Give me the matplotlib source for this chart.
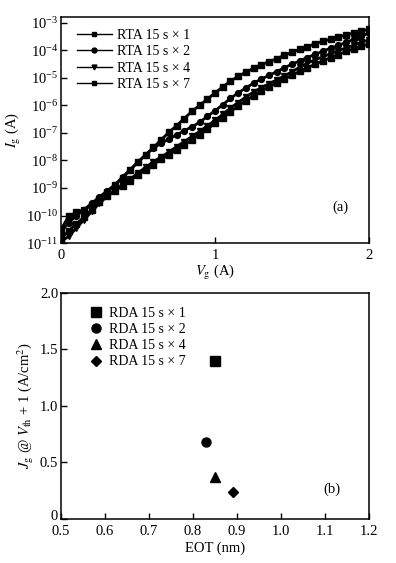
import numpy as np
import matplotlib
matplotlib.use("Agg")
import matplotlib.pyplot as plt
from matplotlib.ticker import LogLocator, LogFormatterSciNotation, FixedLocator
from matplotlib.transforms import ScaledTranslation

plt.rcParams['font.family'] = ['Liberation Serif', 'DejaVu Serif']
plt.rcParams['mathtext.fontset'] = 'stix'
plt.rcParams['font.size'] = 10

# ---- Panel (a) data: gate voltage (V) and log10 of gate current (A)
vg = [0.00, 0.05, 0.10, 0.15, 0.20, 0.25, 0.30, 0.35, 0.40, 0.45,
      0.50, 0.55, 0.60, 0.65, 0.70, 0.75, 0.80, 0.85, 0.90, 0.95,
      1.00, 1.05, 1.10, 1.15, 1.20, 1.25, 1.30, 1.35, 1.40, 1.45,
      1.50, 1.55, 1.60, 1.65, 1.70, 1.75, 1.80, 1.85, 1.90, 1.95, 2.00]

log_ig_x1 = [-10.50, -10.02, -9.88, -9.78, -9.62, -9.40, -9.15, -8.90, -8.62, -8.35,
             -8.05, -7.80, -7.53, -7.25, -6.98, -6.74, -6.48, -6.22, -6.00, -5.78,
             -5.55, -5.33, -5.13, -4.95, -4.80, -4.66, -4.53, -4.42, -4.31, -4.19,
             -4.08, -3.97, -3.87, -3.77, -3.68, -3.60, -3.52, -3.45, -3.38, -3.31, -3.25]

log_ig_x2 = [-10.60, -10.25, -10.00, -9.78, -9.55, -9.32, -9.10, -8.88, -8.60, -8.33,
             -8.05, -7.80, -7.55, -7.38, -7.22, -7.08, -6.92, -6.78, -6.62, -6.40,
             -6.20, -5.98, -5.75, -5.55, -5.37, -5.20, -5.05, -4.92, -4.78, -4.64,
             -4.51, -4.39, -4.27, -4.15, -4.04, -3.93, -3.83, -3.72, -3.61, -3.50, -3.38]

log_ig_x4 = [-10.95, -10.75, -10.45, -10.15, -9.85, -9.55, -9.30, -9.08, -8.88, -8.68,
             -8.45, -8.25, -8.05, -7.87, -7.70, -7.50, -7.32, -7.13, -6.95, -6.75,
             -6.55, -6.33, -6.10, -5.90, -5.70, -5.52, -5.36, -5.22, -5.08, -4.94,
             -4.78, -4.62, -4.47, -4.35, -4.24, -4.13, -4.02, -3.92, -3.82, -3.72, -3.62]

log_ig_x7 = [-10.85, -10.55, -10.30, -10.05, -9.78, -9.52, -9.30, -9.10, -8.92, -8.73,
             -8.53, -8.34, -8.15, -7.96, -7.80, -7.62, -7.44, -7.25, -7.06, -6.86,
             -6.66, -6.45, -6.23, -6.03, -5.84, -5.65, -5.48, -5.33, -5.19, -5.05,
             -4.91, -4.77, -4.64, -4.51, -4.39, -4.27, -4.16, -4.05, -3.95, -3.86, -3.78]

labels_a = ['RTA 15 s × 1', 'RTA 15 s × 2', 'RTA 15 s × 4', 'RTA 15 s × 7']
markers_a = ['s', 'o', 'v', 's']

# ---- Panel (b) data
eot = [0.85, 0.83, 0.85, 0.89]
jg = [1.40, 0.68, 0.37, 0.24]
labels_b = ['RDA 15 s × 1', 'RDA 15 s × 2', 'RDA 15 s × 4', 'RDA 15 s × 7']
markers_b = ['s', 'o', '^', 'D']

fig = plt.figure(figsize=(3.96, 5.63), dpi=100)
ax1 = fig.add_axes([0.154, 0.568, 0.778, 0.402])
ax2 = fig.add_axes([0.154, 0.0782, 0.778, 0.4014])

for ax in (ax1, ax2):
    for s in ax.spines.values():
        s.set_linewidth(1.1)
    ax.tick_params(direction='in', length=4, width=1.0, top=False, right=False,
                   labelsize=10.5, pad=2)

series = [log_ig_x1, log_ig_x2, log_ig_x4, log_ig_x7]
for vals, lab, m in zip(series, labels_a, markers_a):
    ax1.plot(vg, 10 ** np.array(vals), color='black', lw=2.0, marker=m,
             markersize=4.2, label=lab, clip_on=True)
ax1.set_yscale('log')
ax1.set_xlim(0, 2)
ax1.set_ylim(1e-11, 1.6e-3)
ax1.yaxis.set_major_locator(LogLocator(base=10, numticks=20))
ax1.yaxis.set_major_formatter(LogFormatterSciNotation())
ax1.yaxis.set_minor_locator(FixedLocator([]))
ax1.set_xticks([0, 1, 2])
ax1.set_xticklabels(['0', '1', '2'])
ax1.tick_params(axis='x', pad=4)
ax1.set_xlabel(r'$V_{\rm g}$ (A)', labelpad=1, fontsize=10.5)
ax1.set_ylabel(r'$I_{\rm g}$ (A)', labelpad=2, fontsize=10.5)
leg1 = ax1.legend(loc='upper left', frameon=False, handlelength=2.5, handletextpad=0.4,
                  labelspacing=0.25, borderaxespad=0.3, fontsize=10,
                  bbox_to_anchor=(0.02, 0.99))
for h in leg1.legend_handles:
    h.set_linewidth(1.0)
    h.set_markersize(3.5)
ax1.text(0.906, 0.16, '(a)', transform=ax1.transAxes, ha='center', va='center',
         fontsize=10.5)

for x, y, lab, m in zip(eot, jg, labels_b, markers_b):
    ms = 6.5 if m != 'D' else 5.5
    ax2.plot([x], [y], linestyle='none', marker=m, color='black', markersize=ms,
             label=lab)
ax2.set_xlim(0.5, 1.2)
ax2.set_ylim(0, 2.0)
ax2.set_xticks([0.5, 0.6, 0.7, 0.8, 0.9, 1.0, 1.1, 1.2])
ax2.set_xticklabels(['0.5', '0.6', '0.7', '0.8', '0.9', '1.0', '1.1', '1.2'])
ax2.set_yticks([0, 0.5, 1.0, 1.5, 2.0])
ax2.set_yticklabels(['0', '0.5', '1.0', '1.5', '2.0'])
ax2.tick_params(axis='x', pad=4)
# nudge the "0" y label up a little so it does not collide with "0.5"
zero_lab = ax2.get_yticklabels()[0]
zero_lab.set_transform(zero_lab.get_transform() +
                       ScaledTranslation(0, 3 / 72, fig.dpi_scale_trans))
ax2.set_xlabel('EOT (nm)', labelpad=3, fontsize=10.5)
ax2.set_ylabel(r'$J_{\rm g}$ @ $V_{\rm th}$ + 1 (A/cm$^2$)', labelpad=3, fontsize=10.5)
ax2.legend(loc='upper left', frameon=False, handlelength=1.0, handletextpad=0.4,
           labelspacing=0.22, borderaxespad=0.3, fontsize=10,
           bbox_to_anchor=(0.06, 0.98))
ax2.text(0.88, 0.133, '(b)', transform=ax2.transAxes, ha='center', va='center',
         fontsize=10.5)

fig.savefig('out.png', dpi=100)
